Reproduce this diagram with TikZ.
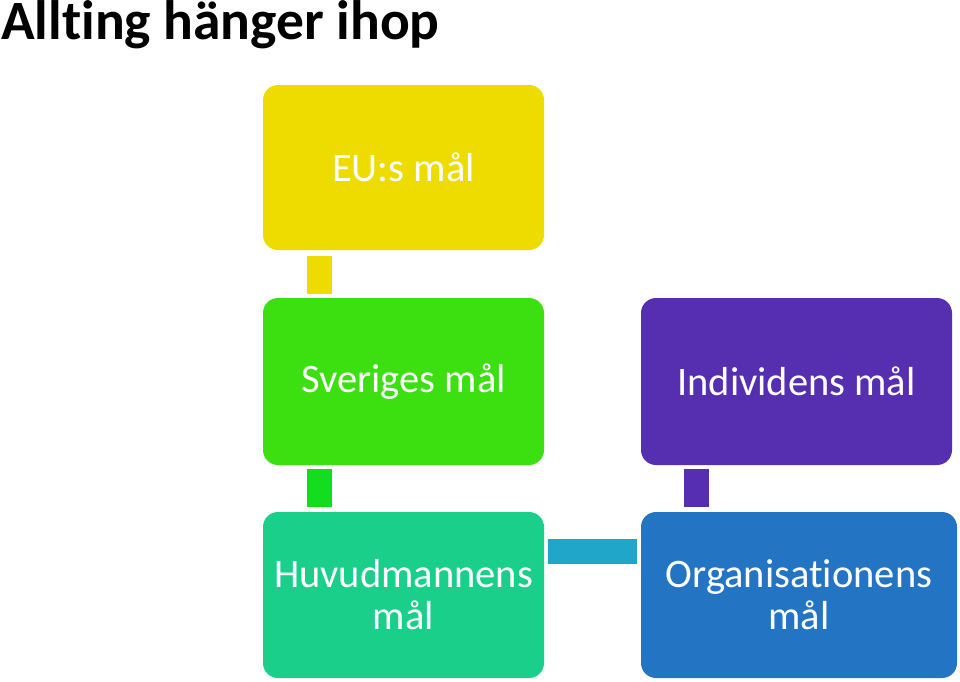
\documentclass[tikz,border=0pt]{standalone}
\usepackage{fontspec}
\setmainfont{Carlito}[Ligatures=NoCommon]
\usetikzlibrary{positioning}

\definecolor{euyellow}{HTML}{EEDC00}
\definecolor{segreen}{HTML}{3CDF10}
\definecolor{segreenbar}{HTML}{14DC1E}
\definecolor{huvteal}{HTML}{19CF8A}
\definecolor{huvbar}{HTML}{1FA6C8}
\definecolor{indpurple}{HTML}{562FB0}
\definecolor{orgblue}{HTML}{2474C4}

\begin{document}
\begin{tikzpicture}[
    x=1pt, y=-1pt,
    goal/.style={rectangle, rounded corners=15pt, text=white, align=center,
    inner sep=0pt, font=\fontsize{40.5}{42}\selectfont},
    bar/.style={line width=25pt, shorten <=5pt, shorten >=4pt}
]
\useasboundingbox (0,0) rectangle (960,681);

% ---------------- TITLE ----------------
\node[anchor=base west, inner sep=0pt, font=\fontsize{55.5}{60}\selectfont\bfseries]
(title) at (1,39) {Allting hänger ihop};

% ---------------- LEFT COLUMN ----------------
\node[goal, fill=euyellow, minimum width=281pt, minimum height=165pt]
(eu) at (403.5,167.5) {EU:s mål};

\node[goal, fill=segreen, minimum width=281pt, minimum height=167pt]
(sve) at (403.5,381.5) {Sveriges mål};

\node[goal, fill=huvteal, minimum width=281pt, minimum height=166pt]
(huv) at (403.5,595) {Huvudmannens\\mål};

% ---------------- RIGHT COLUMN ----------------
\node[goal, fill=indpurple, minimum width=311pt, minimum height=167pt]
(ind) at (796.5,381.5) {Individens mål};

\node[goal, fill=orgblue, minimum width=316pt, minimum height=166pt]
(org) at (799,595) {Organisationens\\mål};

% ---------------- LINKS ----------------
\draw[bar, euyellow, shorten <=6pt] ([xshift=56.5pt]eu.south west) -- ([xshift=56.5pt]eu.south west |- sve.north);
\draw[bar, segreenbar, shorten <=4pt, shorten >=5pt] ([xshift=56.5pt]sve.south west) -- ([xshift=56.5pt]sve.south west |- huv.north);
\draw[bar, indpurple, shorten <=4pt, shorten >=5pt] ([xshift=55.5pt]ind.south west) -- ([xshift=55.5pt]ind.south west |- org.north);
\draw[bar, huvbar, shorten <=4pt] ([yshift=43.5pt]huv.east) -- ([yshift=43.5pt]huv.east -| org.west);

\end{tikzpicture}
\end{document}
